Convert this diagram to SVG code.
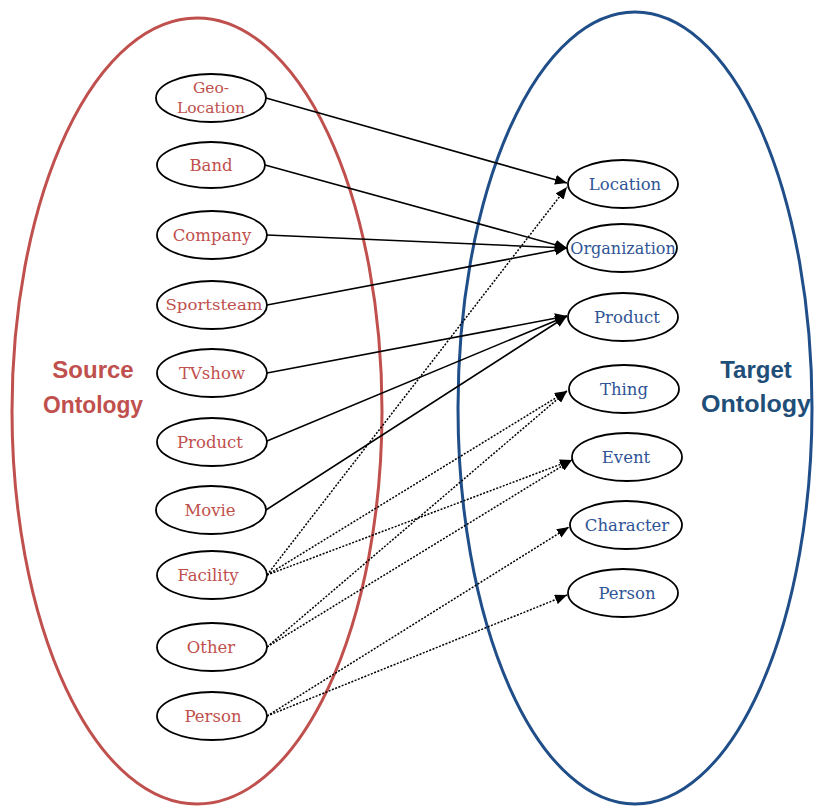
<svg xmlns="http://www.w3.org/2000/svg" width="816" height="809" viewBox="0 0 816 809">
  <defs>
    <marker id="arrow" viewBox="0 0 12 10" refX="12" refY="5" markerWidth="12" markerHeight="10" markerUnits="userSpaceOnUse" orient="auto">
      <path d="M0,0 L12,5 L0,10 Z" fill="#000"/>
    </marker>
    <style>
      .node ellipse { fill: #fff; stroke: #000; stroke-width: 1.8; }
      .src text { font-family: "DejaVu Serif", "Liberation Serif", serif; font-size: 16.5px; fill: #c0504d; text-anchor: middle; }
      .tgt text { font-family: "DejaVu Serif", "Liberation Serif", serif; font-size: 16.5px; fill: #2f5496; text-anchor: middle; }
      .title { font-family: "Liberation Sans", Arial, sans-serif; font-weight: bold; font-size: 24px; text-anchor: middle; }
      .edge { fill: none; stroke: #000; stroke-width: 1.6; marker-end: url(#arrow); }
      .dot { stroke-dasharray: 2 1.5; stroke-width: 1.5; }
    </style>
  </defs>
  <rect width="816" height="809" fill="#fff"/>

  <!-- ontology sets -->
  <ellipse id="source-set" cx="197" cy="411" rx="185" ry="393" fill="none" stroke="#c0504d" stroke-width="3"/>
  <ellipse id="target-set" cx="635" cy="408" rx="177" ry="396" fill="none" stroke="#1f4e89" stroke-width="3"/>
  <text class="title" x="93" y="378" fill="#c0504d">Source</text>
  <text class="title" x="93" y="413" fill="#c0504d" textLength="100" lengthAdjust="spacingAndGlyphs">Ontology</text>
  <text class="title" x="756" y="378" fill="#1f4e79">Target</text>
  <text class="title" x="756" y="412" fill="#1f4e79" textLength="110" lengthAdjust="spacingAndGlyphs">Ontology</text>

  <!-- mappings -->
  <g id="connectors">
    <line class="edge" x1="266" y1="98" x2="567" y2="183"/>
    <line class="edge" x1="265" y1="165" x2="567" y2="248"/>
    <line class="edge" x1="267" y1="235" x2="567" y2="248"/>
    <line class="edge" x1="267" y1="305" x2="567" y2="248"/>
    <line class="edge" x1="267" y1="373" x2="567" y2="316"/>
    <line class="edge" x1="267" y1="441" x2="567" y2="316"/>
    <line class="edge" x1="266" y1="510" x2="567" y2="316"/>
    <line class="edge dot" x1="267" y1="575" x2="567" y2="187"/>
    <line class="edge dot" x1="267" y1="575" x2="567" y2="391"/>
    <line class="edge dot" x1="267" y1="575" x2="572" y2="460"/>
    <line class="edge dot" x1="267" y1="647" x2="567" y2="391"/>
    <line class="edge dot" x1="267" y1="647" x2="572" y2="460"/>
    <line class="edge dot" x1="267" y1="716" x2="569" y2="527"/>
    <line class="edge dot" x1="267" y1="716" x2="567" y2="595"/>
  </g>

  <!-- source concepts -->
  <g id="s-geolocation" class="node src"><ellipse cx="211" cy="98" rx="55" ry="24"/><text x="211" y="93" style="font-size:15.5px">Geo-</text><text x="211" y="113" style="font-size:15.5px">Location</text></g>
  <g id="s-band" class="node src"><ellipse cx="211" cy="165" rx="54" ry="23"/><text x="211" y="171">Band</text></g>
  <g id="s-company" class="node src"><ellipse cx="212" cy="235" rx="55" ry="24"/><text x="212" y="241">Company</text></g>
  <g id="s-sportsteam" class="node src"><ellipse cx="212" cy="305" rx="55" ry="24"/><text x="214" y="310" style="font-size:15.5px" textLength="97" lengthAdjust="spacingAndGlyphs">Sportsteam</text></g>
  <g id="s-tvshow" class="node src"><ellipse cx="212" cy="373" rx="55" ry="24"/><text x="212" y="379">TVshow</text></g>
  <g id="s-product" class="node src"><ellipse cx="212" cy="442" rx="55" ry="24"/><text x="210" y="448">Product</text></g>
  <g id="s-movie" class="node src"><ellipse cx="211" cy="510" rx="55" ry="24"/><text x="210" y="516">Movie</text></g>
  <g id="s-facility" class="node src"><ellipse cx="212" cy="575" rx="55" ry="24"/><text x="208" y="581">Facility</text></g>
  <g id="s-other" class="node src"><ellipse cx="212" cy="647" rx="55" ry="24"/><text x="211" y="653">Other</text></g>
  <g id="s-person" class="node src"><ellipse cx="212" cy="716" rx="55" ry="24"/><text x="213" y="722">Person</text></g>

  <!-- target concepts -->
  <g id="t-location" class="node tgt"><ellipse cx="623" cy="184" rx="55" ry="24"/><text x="625" y="190">Location</text></g>
  <g id="t-organization" class="node tgt"><ellipse cx="622" cy="248" rx="55" ry="24"/><text x="623" y="254" style="font-size:16px">Organization</text></g>
  <g id="t-product" class="node tgt"><ellipse cx="623" cy="317" rx="55" ry="24"/><text x="627" y="323">Product</text></g>
  <g id="t-thing" class="node tgt"><ellipse cx="624" cy="389" rx="55" ry="24"/><text x="624" y="395">Thing</text></g>
  <g id="t-event" class="node tgt"><ellipse cx="627" cy="457" rx="55" ry="24"/><text x="626" y="463">Event</text></g>
  <g id="t-character" class="node tgt"><ellipse cx="626" cy="525" rx="56" ry="24"/><text x="627" y="531">Character</text></g>
  <g id="t-person" class="node tgt"><ellipse cx="623" cy="593" rx="55" ry="24"/><text x="627" y="599">Person</text></g>
</svg>
